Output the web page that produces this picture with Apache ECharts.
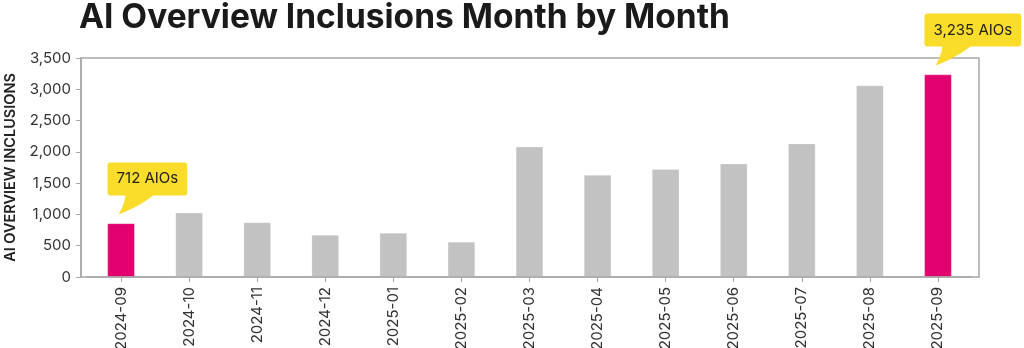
<!DOCTYPE html>
<html>
<head>
<meta charset="utf-8">
<script src="https://cdn.jsdelivr.net/npm/echarts@6/dist/echarts.min.js"></script>
<style>
html,body{margin:0;padding:0;background:#fff;}
#chart{width:1024px;height:348px;}
</style>
</head>
<body>
<div id="chart"></div>
<script>
const titleText = 'AI Overview Inclusions Month by Month';
const yAxisName = 'AI OVERVIEW INCLUSIONS';
const categories = ['2024-09','2024-10','2024-11','2024-12','2025-01','2025-02','2025-03','2025-04','2025-05','2025-06','2025-07','2025-08','2025-09'];
const values = [856, 1026, 872, 673, 705, 561, 2083, 1630, 1721, 1811, 2131, 3061, 3235];
const highlighted = [true, false, false, false, false, false, false, false, false, false, false, false, true];
const callouts = ['712 AIOs', null, null, null, null, null, null, null, null, null, null, null, '3,235 AIOs'];

const PINK = '#E2006F', GRAY = '#C2C2C2', YELLOW = '#FADC2A', FRAME = '#A8A8A8';
const FONT = 'Inter, "Noto Sans", sans-serif';

const chart = echarts.init(document.getElementById('chart'), null, {renderer: 'canvas'});
const option = {
  animation: false,
  backgroundColor: '#fff',
  title: {
    text: titleText, left: 79, top: 1, padding: 0,
    textStyle: {fontFamily: FONT, fontSize: 33.5, fontWeight: 'bold', color: '#1a1a1a'}
  },
  grid: {left: 87, right: 52, top: 58, bottom: 71, outerBoundsMode: 'none', containLabel: false},
  xAxis: {
    type: 'category', data: categories,
    axisLine: {show: true, lineStyle: {color: FRAME, width: 1.5}},
    axisTick: {show: true, alignWithLabel: true, length: 5, lineStyle: {color: FRAME}},
    axisLabel: {rotate: 90, margin: 10, fontFamily: FONT, fontSize: 15, color: '#333'}
  },
  yAxis: {
    type: 'value', min: 0, max: 3500, interval: 500, offset: 6,
    name: yAxisName, nameLocation: 'middle', nameGap: 63, nameRotate: 90,
    nameTextStyle: {fontFamily: FONT, fontSize: 14.5, fontWeight: 600, color: '#222'},
    axisLine: {show: true, lineStyle: {color: FRAME, width: 1.5}},
    axisTick: {show: true, length: 5, lineStyle: {color: FRAME}},
    splitLine: {show: false},
    axisLabel: {margin: 10, fontFamily: FONT, fontSize: 15, color: '#333',
      formatter: v => v.toLocaleString('en-US')}
  },
  series: [{
    type: 'bar', barWidth: '40%',
    data: values.map((v, i) => ({value: v, itemStyle: {color: highlighted[i] ? PINK : GRAY}})),
    itemStyle: {borderColor: 'rgba(255,255,255,0.5)', borderWidth: 0.5}
  }]
};
chart.setOption(option);

function quad(p0, p1, p2, n) {
  const pts = [];
  for (let k = 0; k <= n; k++) {
    const t = k / n, u = 1 - t;
    pts.push([u*u*p0[0] + 2*u*t*p1[0] + t*t*p2[0], u*u*p0[1] + 2*u*t*p1[1] + t*t*p2[1]]);
  }
  return pts;
}

const measureCtx = document.createElement('canvas').getContext('2d');
measureCtx.font = '15px ' + FONT;

function drawOverlays() {
  const g = [];
  const tl = chart.convertToPixel({gridIndex: 0}, [0, 3500]);
  const br = chart.convertToPixel({gridIndex: 0}, [categories.length - 1, 0]);
  const band = (chart.convertToPixel({gridIndex: 0}, [1, 0])[0] - chart.convertToPixel({gridIndex: 0}, [0, 0])[0]);
  const left = tl[0] - band / 2 - 6, right = br[0] + band / 2 + 7;
  const top = tl[1], bottom = br[1];
  g.push({type: 'rect', shape: {x: left, y: top, width: right - left, height: bottom - top},
    style: {fill: 'none', stroke: FRAME, lineWidth: 1.5}, z: 10});
  categories.forEach((c, i) => {
    if (!callouts[i]) return;
    const p = chart.convertToPixel({gridIndex: 0}, [i, values[i]]);
    const cx = p[0], barTop = p[1];
    const w = measureCtx.measureText(callouts[i]).width + 18;
    const h = 33;
    const L = cx - 13.5, T = barTop - 61;
    const tip = [L + 11, barTop - 9];
    const a = [L + 18, T + h - 1], b = [L + 47, T + h - 1];
    const pts = quad(a, [L + 17, T + h + 9], tip, 10).concat(quad(tip, [L + 32, T + h + 11], b, 10).slice(1));
    g.push({type: 'polygon', z: 20, shape: {points: pts}, style: {fill: YELLOW}});
    g.push({type: 'rect', z: 21, shape: {x: L, y: T, width: w, height: h, r: 3}, style: {fill: YELLOW}});
    g.push({type: 'text', z: 22, x: L + w / 2, y: T + h / 2,
      style: {text: callouts[i], fontFamily: FONT, fontSize: 15, fill: '#222', align: 'center', verticalAlign: 'middle'}});
  });
  chart.setOption({graphic: g});
}
drawOverlays();
</script>
</body>
</html>
